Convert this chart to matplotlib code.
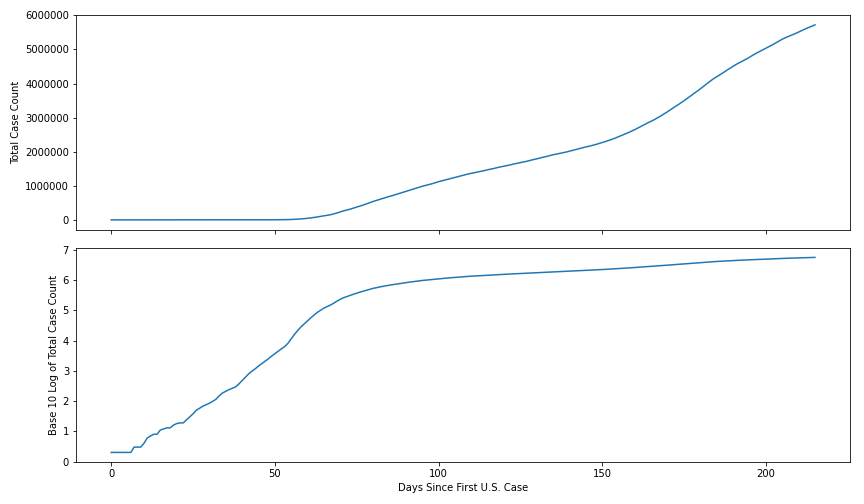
import matplotlib
matplotlib.use("Agg")
import matplotlib.pyplot as plt
import numpy as np

# Cumulative U.S. case counts, one value per day since the first case
cases_early = [2, 2, 2, 2, 2, 2, 2, 3, 3, 3,
               4, 6, 7, 8, 8, 11, 12, 13, 13, 16,
               18, 19, 19, 24, 30, 38, 50, 58, 68, 76,
               85, 98, 115, 150, 185, 212, 240, 265, 295, 370,
               480, 620, 800, 980, 1175, 1450, 1740, 2090, 2510, 3090,
               3720, 4470, 5370, 6400, 8200, 11500, 16300, 21900, 28800, 36300,
               45700, 57500, 70800, 87100, 102000, 120000]
cases_spring = [135000, 152000, 175000, 205000, 235000, 265000, 290000, 315000, 345000, 375000,
                405000, 435000, 470000, 505000, 540000, 570000, 600000, 630000, 660000, 690000,
                715000, 745000, 775000, 805000, 835000, 865000, 895000, 925000, 955000, 985000,
                1010000, 1035000, 1060000, 1090000, 1120000, 1145000, 1170000, 1195000, 1220000, 1245000,
                1270000, 1295000, 1320000, 1345000, 1365000, 1385000, 1405000, 1425000, 1445000, 1470000,
                1490000, 1510000, 1535000, 1555000, 1575000, 1595000, 1615000, 1640000, 1660000, 1680000,
                1700000, 1720000, 1745000, 1770000, 1790000, 1815000, 1840000, 1860000, 1885000, 1910000]
cases_summer = [1930000, 1950000, 1970000, 1990000, 2015000, 2040000, 2065000, 2090000, 2115000, 2140000,
                2160000, 2185000, 2210000, 2240000, 2270000, 2300000, 2330000, 2365000, 2400000, 2440000,
                2480000, 2520000, 2560000, 2605000, 2650000, 2700000, 2750000, 2800000, 2850000, 2895000,
                2945000, 3000000, 3055000, 3115000, 3175000, 3240000, 3305000, 3365000, 3430000, 3495000,
                3565000, 3635000, 3705000, 3775000, 3845000, 3920000, 3995000, 4070000, 4140000, 4200000,
                4260000, 4320000, 4385000, 4445000, 4505000, 4565000, 4615000, 4665000, 4715000, 4770000,
                4830000, 4885000, 4935000, 4985000, 5035000, 5085000, 5135000, 5190000, 5245000, 5300000,
                5345000, 5385000, 5425000, 5465000, 5510000, 5555000, 5600000, 5640000, 5680000, 5720000]

cases = np.array(cases_early + cases_spring + cases_summer)
days = np.arange(len(cases))

fig, (ax1, ax2) = plt.subplots(2, 1, sharex=True, figsize=(12, 7), dpi=72)
fig.subplots_adjust(left=0.088, right=0.984, top=0.970, bottom=0.083, hspace=0.084)

# Linear scale
ax1.plot(days, cases)
ax1.set_ylabel('Total Case Count')
ax1.ticklabel_format(style='plain', axis='y')

# Log scale
ax2.plot(days, np.log10(cases))
ax2.set_ylabel('Base 10 Log of Total Case Count')
ax2.set_xlabel('Days Since First U.S. Case')

plt.savefig('out.png')
